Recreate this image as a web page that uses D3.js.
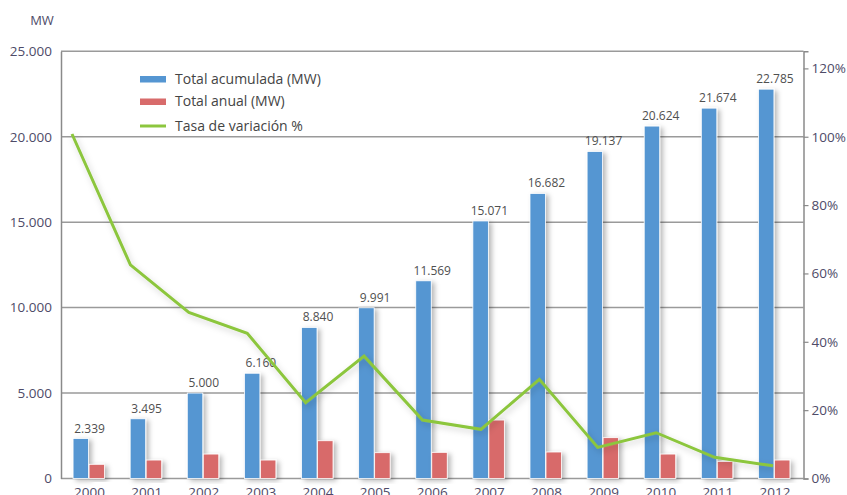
<!DOCTYPE html>
<html>
<head>
<meta charset="utf-8">
<script src="https://cdn.jsdelivr.net/npm/d3@7"></script>
<style>
  html, body { margin: 0; padding: 0; background: #fff; }
  svg { display: block; font-family: "Open Sans", "DejaVu Sans", sans-serif; }
</style>
</head>
<body>
<svg id="chart" width="847" height="495"></svg>
<script>
// Wind power capacity, 2000-2012
const years = ["2000","2001","2002","2003","2004","2005","2006","2007","2008","2009","2010","2011","2012"];
const totalAcumulada = [2339, 3495, 5000, 6160, 8840, 9991, 11569, 15071, 16682, 19137, 20624, 21674, 22785];
const totalAnual = [830, 1080, 1430, 1080, 2210, 1510, 1530, 3420, 1550, 2390, 1430, 1000, 1080];
const tasaVariacion = [100.8, 62.5, 48.6, 42.5, 22.2, 35.8, 17.1, 14.4, 29.0, 9.1, 13.4, 6.2, 3.7];
const leftTicks = [0, 5000, 10000, 15000, 20000, 25000];
const rightTicks = [0, 20, 40, 60, 80, 100, 120];
const legendLabels = ["Total acumulada (MW)", "Total anual (MW)", "Tasa de variación %"];

const colors = { blue: "#5596d2", red: "#d86b6b", green: "#8cc63e", grid: "#9a9a9a", axis: "#8a8a8a", tick: "#4e4b68", text: "#505050" };

const svg = d3.select("#chart");
const m = { left: 61, right: 803.5, top: 51.3, bottom: 478.5 };

const x = d3.scaleBand().domain(years).range([m.left, m.right]);
const xLine = d3.scalePoint().domain(years).range([72, 773]);
const yL = d3.scaleLinear().domain([0, 25000]).range([m.bottom, m.top]);
const yR = d3.scaleLinear().domain([0, 125]).range([m.bottom, m.top]);

const fmt = v => d3.format(",")(v).replace(/,/g, ".");

// shadow filters
const defs = svg.append("defs");
const f = defs.append("filter").attr("id", "shadow").attr("x", "-50%").attr("y", "-20%").attr("width", "250%").attr("height", "140%");
f.append("feDropShadow").attr("dx", 3).attr("dy", 2).attr("stdDeviation", 2.5).attr("flood-color", "#000").attr("flood-opacity", 0.28);
const fl = defs.append("filter").attr("id", "lshadow").attr("x", "-10%").attr("y", "-10%").attr("width", "130%").attr("height", "130%");
fl.append("feDropShadow").attr("dx", 2).attr("dy", 3).attr("stdDeviation", 3).attr("flood-color", "#000").attr("flood-opacity", 0.18);

// gridlines (left scale)
svg.append("g").selectAll("line").data(leftTicks).join("line")
  .attr("x1", m.left).attr("x2", m.right)
  .attr("y1", d => yL(d)).attr("y2", d => yL(d))
  .attr("stroke", colors.grid).attr("stroke-width", 1.5);

// left axis
const gL = svg.append("g").attr("transform", `translate(${m.left},0)`)
  .call(d3.axisLeft(yL).tickValues(leftTicks).tickFormat(fmt).tickSize(0).tickPadding(9));
gL.select(".domain").attr("stroke", colors.axis).attr("stroke-width", 1.5);
gL.selectAll("text").attr("font-size", 13.5).attr("fill", colors.tick).attr("font-family", "Open Sans");

// right axis
const gR = svg.append("g").attr("transform", `translate(${m.right},0)`)
  .call(d3.axisRight(yR).tickValues(rightTicks).tickFormat(d => d + "%").tickSize(5).tickPadding(3));
gR.select(".domain").attr("stroke", colors.axis).attr("stroke-width", 1.5);
gR.selectAll(".tick line").attr("stroke", colors.axis).attr("stroke-width", 1.2);
gR.selectAll("text").attr("font-size", 13.5).attr("fill", colors.tick).attr("font-family", "Open Sans");

// MW unit
svg.append("text").attr("x", 42).attr("y", 25).attr("text-anchor", "middle")
  .attr("font-size", 13).attr("fill", colors.tick).text("MW");

// bars
const bw = 15.5;
const bars = svg.append("g");
bars.selectAll("rect.acum").data(years).join("rect")
  .attr("class", "acum")
  .attr("x", (d) => x(d) + x.bandwidth() / 2 - bw - 1)
  .attr("y", (d, i) => yL(totalAcumulada[i]))
  .attr("width", bw)
  .attr("height", (d, i) => yL(0) - yL(totalAcumulada[i]))
  .attr("fill", colors.blue).attr("stroke", "#fff").attr("stroke-width", 0.8)
  .attr("filter", "url(#shadow)");
bars.selectAll("rect.anual").data(years).join("rect")
  .attr("class", "anual")
  .attr("x", (d) => x(d) + x.bandwidth() / 2 - 0.5)
  .attr("y", (d, i) => yL(totalAnual[i]))
  .attr("width", bw)
  .attr("height", (d, i) => yL(0) - yL(totalAnual[i]))
  .attr("fill", colors.red).attr("stroke", "#fff").attr("stroke-width", 0.8)
  .attr("filter", "url(#shadow)");

// value labels over the cumulative bars
svg.append("g").selectAll("text").data(years).join("text")
  .attr("x", d => x(d) + x.bandwidth() / 2)
  .attr("y", (d, i) => yL(totalAcumulada[i]) - 6)
  .attr("text-anchor", "middle").attr("font-size", 12).attr("fill", colors.text)
  .text((d, i) => fmt(totalAcumulada[i]));

// variation rate line
svg.append("path")
  .datum(tasaVariacion)
  .attr("d", d3.line().x((d, i) => xLine(years[i])).y(d => yR(d)))
  .attr("fill", "none").attr("stroke", colors.green).attr("stroke-width", 3)
  .attr("stroke-linejoin", "miter").attr("filter", "url(#lshadow)");

// x labels
svg.append("g").selectAll("text").data(years).join("text")
  .attr("x", d => x(d) + x.bandwidth() / 2)
  .attr("y", 497)
  .attr("text-anchor", "middle").attr("font-size", 13.5).attr("fill", colors.tick)
  .text(d => d);

// legend
const lg = svg.append("g");
const rowsY = [79, 101.5, 126];
lg.selectAll("rect").data([colors.blue, colors.red]).join("rect")
  .attr("x", 140).attr("y", (d, i) => rowsY[i] - 3).attr("width", 26).attr("height", 6.5).attr("fill", d => d);
lg.append("line").attr("x1", 140).attr("x2", 166).attr("y1", rowsY[2]).attr("y2", rowsY[2])
  .attr("stroke", colors.green).attr("stroke-width", 3);
lg.selectAll("text").data(legendLabels).join("text")
  .attr("x", 175).attr("y", (d, i) => rowsY[i]).attr("dy", "0.35em")
  .attr("font-size", 14).attr("fill", "#444").text(d => d);
</script>
</body>
</html>
